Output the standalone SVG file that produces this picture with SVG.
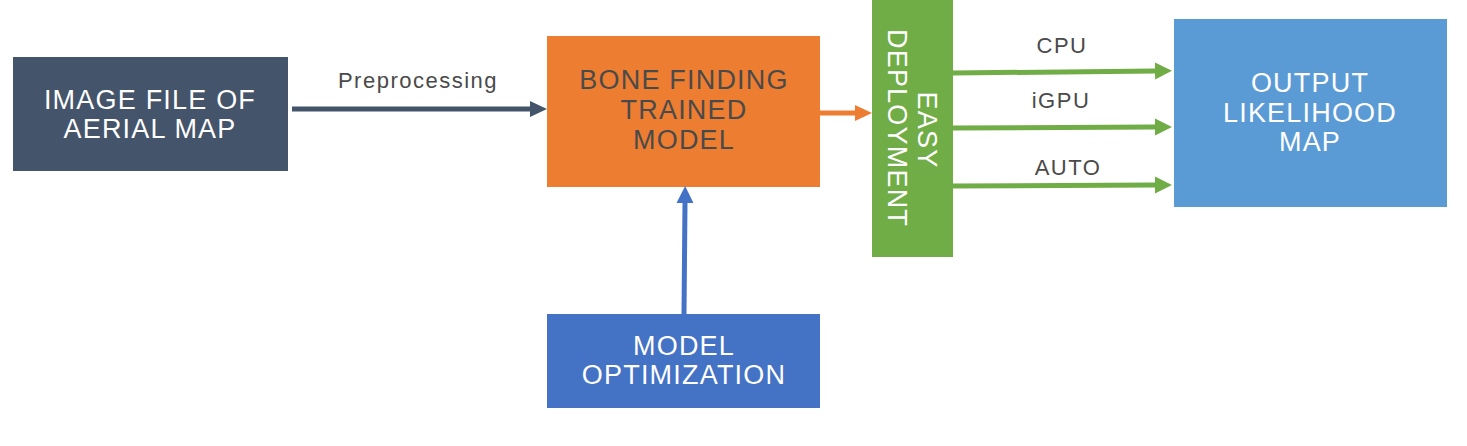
<svg xmlns="http://www.w3.org/2000/svg" width="1467" height="446" viewBox="0 0 1467 446">
<style>
  .lbl { font-family: "Liberation Sans", Arial, sans-serif; text-anchor: middle; }
  .big { font-size: 27px; letter-spacing: 1.2px; }
  .small { font-size: 22px; fill: #4a4a4a; letter-spacing: 1.5px; }
  .white { fill: #ffffff; }
  .dark { fill: #4a4a4a; }
  .conn { fill: none; stroke-width: 5; }
</style>
<defs>
  <marker id="ahNavy" markerUnits="userSpaceOnUse" markerWidth="18" markerHeight="18" refX="0" refY="8" orient="auto"><path d="M0,0 L17,8 L0,16 z" fill="#44546A"/></marker>
  <marker id="ahOrange" markerUnits="userSpaceOnUse" markerWidth="18" markerHeight="18" refX="0" refY="8" orient="auto"><path d="M0,0 L17,8 L0,16 z" fill="#ED7D31"/></marker>
  <marker id="ahBlue" markerUnits="userSpaceOnUse" markerWidth="18" markerHeight="18" refX="0" refY="8.5" orient="auto"><path d="M0,0 L17,8.5 L0,17 z" fill="#4472C4"/></marker>
  <marker id="ahGreen" markerUnits="userSpaceOnUse" markerWidth="18" markerHeight="18" refX="0" refY="8.5" orient="auto"><path d="M0,0 L17,8.5 L0,17 z" fill="#70AD47"/></marker>
</defs>
<rect width="1467" height="446" fill="#ffffff"/>

<g id="image-file">
  <rect x="13" y="57" width="275" height="114" fill="#44546A"/>
  <text class="lbl big white" x="150" y="109">IMAGE FILE OF</text>
  <text class="lbl big white" x="150" y="138">AERIAL MAP</text>
</g>

<g id="trained-model">
  <rect x="547" y="36" width="273" height="151" fill="#ED7D31"/>
  <text class="lbl big dark" x="684" y="89">BONE FINDING</text>
  <text class="lbl big dark" x="684" y="119">TRAINED</text>
  <text class="lbl big dark" x="684" y="149">MODEL</text>
</g>

<g id="model-optimization">
  <rect x="547" y="314" width="273" height="94" fill="#4472C4"/>
  <text class="lbl big white" x="684" y="355">MODEL</text>
  <text class="lbl big white" x="684" y="384">OPTIMIZATION</text>
</g>

<g id="easy-deployment">
  <rect x="872" y="0" width="81" height="257" fill="#70AD47"/>
  <text class="lbl big white" transform="translate(918,130) rotate(90)">EASY</text>
  <text class="lbl big white" transform="translate(888,128) rotate(90)">DEPLOYMENT</text>
</g>

<g id="output-map">
  <rect x="1174" y="19" width="273" height="188" fill="#5B9BD5"/>
  <text class="lbl big white" x="1310" y="92">OUTPUT</text>
  <text class="lbl big white" x="1310" y="122">LIKELIHOOD</text>
  <text class="lbl big white" x="1310" y="151">MAP</text>
</g>

<g id="connectors">
  <path class="conn" d="M292,109 L530,109" stroke="#44546A" marker-end="url(#ahNavy)"/>
  <text class="lbl small" x="418" y="88">Preprocessing</text>
  <path class="conn" d="M820,113 L855,113" stroke="#ED7D31" marker-end="url(#ahOrange)"/>
  <path class="conn" d="M684,314 L685,203" stroke="#4472C4" marker-end="url(#ahBlue)"/>
  <path class="conn" d="M953,73 L1155,71" stroke="#70AD47" marker-end="url(#ahGreen)"/>
  <text class="lbl small" x="1062" y="53">CPU</text>
  <path class="conn" d="M953,128 L1155,127" stroke="#70AD47" marker-end="url(#ahGreen)"/>
  <text class="lbl small" x="1061" y="108">iGPU</text>
  <path class="conn" d="M953,186 L1155,185" stroke="#70AD47" marker-end="url(#ahGreen)"/>
  <text class="lbl small" x="1068" y="175">AUTO</text>
</g>
</svg>
